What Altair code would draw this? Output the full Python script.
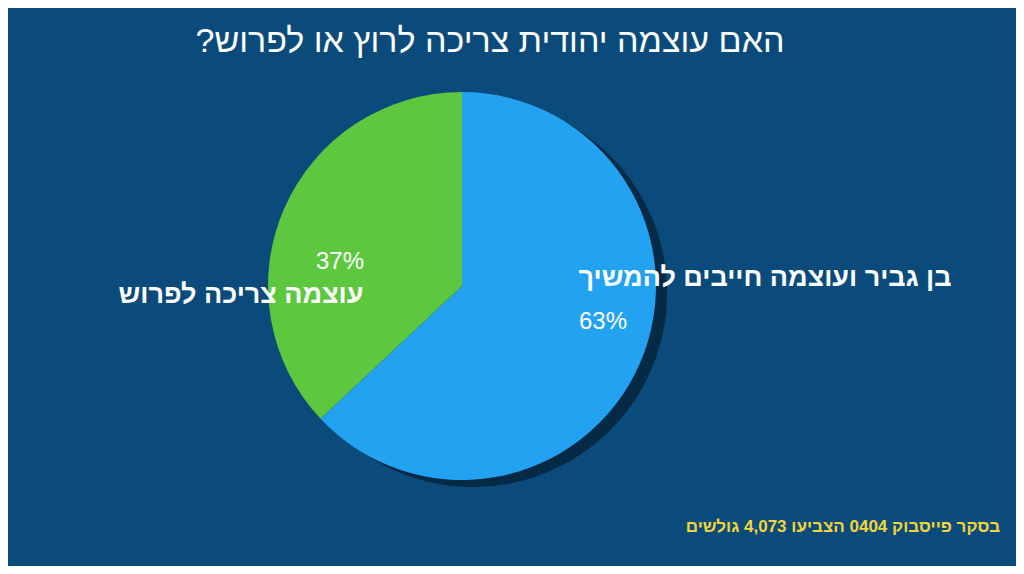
import altair as alt
import pandas as pd

categories = ["בן גביר ועוצמה חייבים להמשיך", "עוצמה צריכה לפרוש"]
values = [63, 37]
colors = ["#22a2f0", "#5dc83f"]
pct_labels = ["63%", "37%"]
title_text = "האם עוצמה יהודית צריכה לרוץ או לפרוש?\u200f"
footer_text = "בסקר פייסבוק 0404 הצביעו 4,073 גולשים"

df = pd.DataFrame({"cat": categories, "value": values, "order": [0, 1], "pct": pct_labels})

W, H = 1008, 558
CX, CY, R = 454, 278, 194

base = alt.Chart(df)

shadow = alt.Chart(pd.DataFrame({"v": [1]})).mark_arc(
    outerRadius=R, color="#021423", opacity=0.6, theta=0, theta2=6.2832
).encode(x=alt.value(CX + 11), y=alt.value(CY + 7))

pie = base.mark_arc(outerRadius=R).encode(
    theta=alt.Theta("value:Q", stack=True),
    color=alt.Color("cat:N", scale=alt.Scale(domain=categories, range=colors), legend=None),
    order=alt.Order("order:Q"),
    x=alt.value(CX),
    y=alt.value(CY),
)

def txt(text, x, y, size, color="white", weight="normal"):
    return alt.Chart(pd.DataFrame({"t": [text]})).mark_text(
        fontSize=size, color=color, fontWeight=weight, font="Liberation Sans", align="center", baseline="middle"
    ).encode(text="t:N", x=alt.value(x), y=alt.value(y))

layers = [
    shadow,
    pie,
    txt(title_text, 482, 34, 34),
    txt(categories[0], 757, 270, 27, weight="bold"),
    txt(pct_labels[0], 595, 314, 24),
    txt(categories[1], 233, 287, 27, weight="bold"),
    txt(pct_labels[1], 332, 254, 24),
    txt(footer_text, 835, 519, 17, color="#f2d43c", weight="bold"),
]

chart = alt.layer(*layers).properties(
    width=W, height=H, padding=0, autosize="none", background="#0b4b7b"
).configure_view(stroke=None, fill="#0b4b7b")

chart.save("out.html", embed_options={"renderer": "svg", "actions": False})
